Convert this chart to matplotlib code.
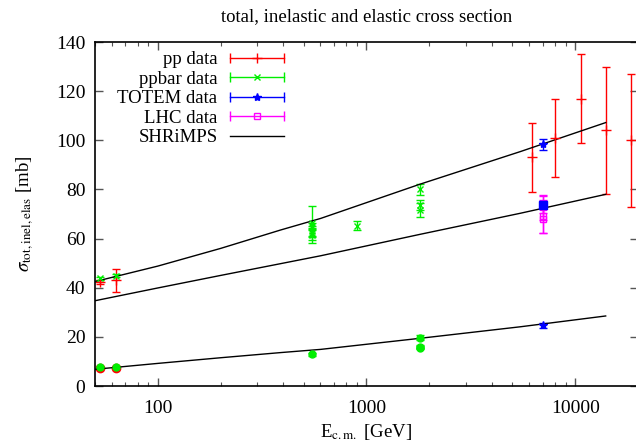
import matplotlib
matplotlib.use("Agg")
import matplotlib.pyplot as plt
from matplotlib.lines import Line2D
from matplotlib.legend_handler import HandlerBase
from matplotlib.ticker import FixedLocator, FixedFormatter, LogLocator, NullFormatter

plt.rcParams['font.family'] = ['Liberation Serif', 'DejaVu Serif']
plt.rcParams['mathtext.fontset'] = 'stix'

# --- data ---
# pp data (red)
pp_E = [53, 63, 6200, 8000, 10700, 14000, 18500]
pp_tot = [42.5, 43.0, 93, 101, 117, 104, 100]
pp_tot_err = [0.8, 4.6, 14, 16, 18, 26, 27]
pp_el_E = [53, 63]
pp_el = [7.3, 7.5]

# ppbar data (green)
ppbar_E = [53, 63, 546, 546, 546, 546, 546, 900, 1800, 1800, 1800]
ppbar_tot = [43.9, 44.8, 61.3, 62.2, 63.0, 65.0, 66.5, 65.3, 80.0, 73.7, 71.6]
ppbar_tot_err = [0.6, 0.6, 3.0, 1.5, 2.1, 1.5, 6.9, 1.7, 2.2, 2.0, 2.9]
ppbar_el_E = [53, 63, 546, 1800, 1800, 1800]
ppbar_el = [7.6, 7.6, 13.0, 19.7, 16.0, 15.6]
ppbar_el_err = [0.3, 0.3, 0.6, 0.9, 0.5, 0.5]

# TOTEM data (blue), 7 TeV: total, inelastic, elastic
totem_E = [7000, 7000, 7000]
totem_val = [98.4, 73.7, 24.8]
totem_err = [2.3, 1.5, 1.0]

# LHC data (magenta), inelastic at 7 TeV
lhc_E = [7000, 7000, 7000, 7000]
lhc_inel = [69.1, 68.1, 72.7, 74.0]
lhc_err = [6.7, 5.7, 5.0, 3.5]

# SHRiMPS curves
shr_E = [50, 100, 200, 388, 603, 1800, 5460, 14000]
shr_tot = [42.5, 48.8, 56.0, 63.5, 68.2, 82.1, 95.4, 107.2]
shr_inel = [34.7, 39.9, 45.0, 49.8, 53.0, 61.7, 70.3, 78.0]
shr_el = [6.8, 9.2, 11.5, 13.6, 14.9, 19.4, 24.1, 28.5]

yticks = [0, 20, 40, 60, 80, 100, 120, 140]
xticks = [100, 1000, 10000]
xticklabels = ['100', '1000', '10000']


class HandlerCapLine(HandlerBase):
    # gnuplot style key sample: horizontal bar with end caps, marker in the middle
    def create_artists(self, legend, orig, xdescent, ydescent, width, height,
                       fontsize, trans):
        y = height / 2 - ydescent
        x0, x1 = -xdescent, -xdescent + width
        c = orig.get_color()
        arts = [Line2D([x0, x1], [y, y], color=c, lw=1)]
        if orig.get_marker() not in (None, 'None', ''):
            caps = Line2D([x0, x1], [y, y], ls='none', marker='|', ms=7,
                          mew=1, color=c)
            mk = Line2D([(x0 + x1) / 2], [y], ls='none',
                        marker=orig.get_marker(), ms=orig.get_markersize(),
                        mfc=orig.get_markerfacecolor(), mew=1, color=c)
            arts += [caps, mk]
        for a in arts:
            a.set_transform(trans)
        return arts


fig = plt.figure(figsize=(6.36, 4.44), dpi=100)
ax = fig.add_axes([95 / 636, 1 - 386 / 444, 543 / 636, 344 / 444])

eb = dict(ls='none', capsize=3, elinewidth=1, capthick=1, mew=1)

ax.errorbar(pp_E, pp_tot, yerr=pp_tot_err, color='#ff0000', marker='+',
            ms=7, **eb)
ax.plot(pp_el_E, pp_el, ls='none', marker='o', ms=6, color='#ff0000')

ax.errorbar(ppbar_E, ppbar_tot, yerr=ppbar_tot_err, color='#00ee00',
            marker='x', ms=5, **eb)
ax.errorbar(ppbar_el_E, ppbar_el, yerr=ppbar_el_err, color='#00ee00',
            marker='o', ms=5, **eb)

ax.errorbar(totem_E[:1], totem_val[:1], yerr=totem_err[:1], color='#0000ff',
            marker='*', ms=6, **eb)
ax.errorbar(lhc_E, lhc_inel, yerr=lhc_err, color='#ff00ff', marker='s',
            ms=5, mfc='none', **eb)
ax.errorbar(totem_E[1:2], totem_val[1:2], yerr=totem_err[1:2],
            color='#0000ff', marker='s', ms=6, **eb)
ax.errorbar(totem_E[2:], totem_val[2:], yerr=totem_err[2:], color='#0000ff',
            marker='*', ms=6, **eb)

ax.plot(shr_E, shr_tot, color='black', lw=1)
ax.plot(shr_E, shr_inel, color='black', lw=1)
ax.plot(shr_E, shr_el, color='black', lw=1)

ax.set_xscale('log')
ax.set_xlim(50, 20000)
ax.set_ylim(0, 140)
ax.yaxis.set_major_locator(FixedLocator(yticks))
ax.xaxis.set_major_locator(FixedLocator(xticks))
ax.xaxis.set_major_formatter(FixedFormatter(xticklabels))
ax.xaxis.set_minor_locator(LogLocator(base=10, subs=range(2, 10)))
ax.xaxis.set_minor_formatter(NullFormatter())
ax.tick_params(which='both', direction='in', top=True, right=True,
               labelsize=14, color='#555555')
ax.tick_params(which='major', length=6, width=1)
ax.tick_params(which='minor', length=3, width=0.8)
ax.tick_params(axis='x', pad=10)
ax.tick_params(axis='y', pad=7)
for s in ax.spines.values():
    s.set_linewidth(1.2)

ax.set_title('total, inelastic and elastic cross section', fontsize=13.5,
             pad=15)
ax.set_xlabel(r'E$_{\rm c.m.}$ [GeV]', fontsize=13.5, labelpad=4)
ax.set_ylabel(r'$\sigma_{\rm tot,inel,elas}$ [mb]', fontsize=13.5,
              labelpad=14)

handles = [
    Line2D([], [], color='#ff0000', marker='+', ms=7),
    Line2D([], [], color='#00ee00', marker='x', ms=5),
    Line2D([], [], color='#0000ff', marker='*', ms=6),
    Line2D([], [], color='#ff00ff', marker='s', ms=5, mfc='none'),
    Line2D([], [], color='black'),
]
labels = ['pp data', 'ppbar data', 'TOTEM data', 'LHC data', 'SHRiMPS']
leg = ax.legend(handles, labels, loc='upper right',
                bbox_to_anchor=((284 - 95) / 543, (386 - 51) / 344),
                frameon=False, markerfirst=False, fontsize=13.5,
                handlelength=2.9, handletextpad=0.65, labelspacing=0.13,
                borderpad=0, borderaxespad=0,
                handler_map={Line2D: HandlerCapLine()})
# right-align the key texts like gnuplot does
leg._legend_handle_box.get_children()[0].align = 'right'

fig.savefig('out.png', dpi=100)
